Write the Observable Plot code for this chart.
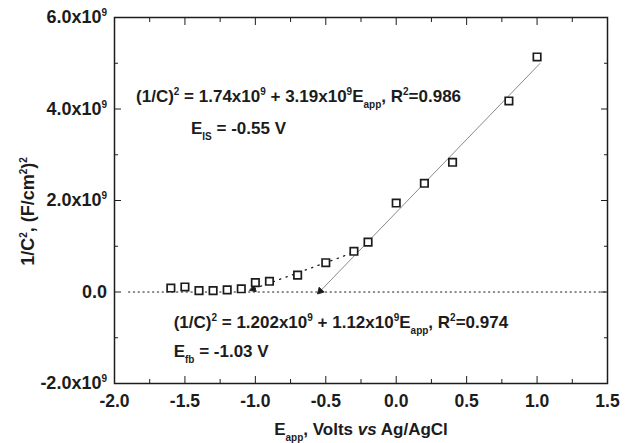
<!DOCTYPE html>
<html>
<head>
<meta charset="utf-8">
<script src="https://cdn.jsdelivr.net/npm/d3@7"></script>
<script src="https://cdn.jsdelivr.net/npm/@observablehq/plot@0.6"></script>
<style>
  html, body { margin: 0; padding: 0; background: #fff; }
  #chart { width: 630px; height: 443px; }
</style>
</head>
<body>
<div id="chart"></div>
<script>
// Mott–Schottky data: applied potential (V vs Ag/AgCl) and 1/C^2 ((F/cm^2)^-2 ×1e9)
const potential = [-1.6, -1.5, -1.4, -1.3, -1.2, -1.1, -1.0, -0.9, -0.7, -0.5, -0.3, -0.2, 0.0, 0.2, 0.4, 0.8, 1.0];
const invC2e9 = [0.087, 0.11, 0.03, 0.03, 0.045, 0.07, 0.205, 0.234, 0.37, 0.64, 0.89, 1.09, 1.945, 2.376, 2.835, 4.175, 5.137];

// Linear fits and their intercepts on the potential axis
const fitIS = {intercept: 1.74e9, slope: 3.19e9, from: 1.02, to: -0.55};
const fitFb = {intercept: 1.202e9, slope: 1.12e9, from: -0.32, to: -1.03};
const zeroLine = {from: -1.9, to: 1.5};

// Axis ticks and labels
const xMajor = [-2, -1.5, -1, -0.5, 0, 0.5, 1, 1.5];
const xMinor = [-1.75, -1.25, -0.75, -0.25, 0.25, 0.75, 1.25];
const xTickLabels = ["-2.0", "-1.5", "-1.0", "-0.5", "0.0", "0.5", "1.0", "1.5"];
const yMajor = [-2e9, 0, 2e9, 4e9, 6e9];
const yMinor = [-1e9, 1e9, 3e9, 5e9];
const yTickLabels = ["-2.0x10^{9}", "0.0", "2.0x10^{9}", "4.0x10^{9}", "6.0x10^{9}"];

const xTitle = "E_{app}, Volts *{vs} Ag/AgCl";
const yTitle = "1/C^{2}, (F/cm^{2})^{2}";

// Equation annotations (anchored in data space)
const notes = [
  {x: -1.847, y: 4.27e9, text: "(1/C)^{2} = 1.74x10^{9} + 3.19x10^{9}E_{app}, R^{2}=0.986"},
  {x: -1.457, y: 3.565e9, text: "E_{IS} = -0.55 V"},
  {x: -1.58, y: -0.675e9, text: "(1/C)^{2} = 1.202x10^{9} + 1.12x10^{9}E_{app}, R^{2}=0.974"},
  {x: -1.58, y: -1.303e9, text: "E_{fb} = -1.03 V"}
];

const points = potential.map((e, i) => ({e, v: invC2e9[i] * 1e9}));
const fitLine = (f) => [f.from, f.to].map(e => ({e, v: f.intercept + f.slope * e}));
const lineIS = fitLine(fitIS);
const lineFb = fitLine(fitFb);
const zero = [{e: zeroLine.from, v: 0}, {e: zeroLine.to, v: 0}];

const ink = "#1c1c1c";

function build(heads) {
  return Plot.plot({
    width: 630,
    height: 443,
    marginLeft: 114,
    marginRight: 23,
    marginTop: 17,
    marginBottom: 60,
    x: {domain: [-2, 1.5]},
    y: {domain: [-2e9, 6e9]},
    style: {fontFamily: "'Liberation Sans', Arial, sans-serif", fontWeight: "bold", fontSize: "17px", color: ink, background: "#fff"},
    marks: [
      // zero reference and fit lines
      Plot.line(zero, {x: "e", y: "v", stroke: ink, strokeWidth: 1.2, strokeDasharray: "1.2,3.6"}),
      Plot.line(lineFb, {x: "e", y: "v", stroke: ink, strokeWidth: 1.3, strokeDasharray: "1.3,5.5"}),
      Plot.line(lineIS, {x: "e", y: "v", stroke: "#8a8a8a", strokeWidth: 1}),
      Plot.dot(heads, {x: "e", y: "v", rotate: "angle", symbol: "triangle", r: 2.6, fill: ink, stroke: ink, strokeWidth: 0.8}),
      // measured points
      Plot.dot(points, {x: "e", y: "v", symbol: "square", r: 4.2, fill: "#fff", stroke: ink, strokeWidth: 1.7}),
      // axes: inward ticks on all four sides
      Plot.axisX(xMajor, {anchor: "bottom", tickSize: -7, tickPadding: 18, tickFormat: (d, i) => xTickLabels[i], fontSize: 17.5, label: null}),
      Plot.axisX(xMinor, {anchor: "bottom", tickSize: -4, tickFormat: () => "", label: null}),
      Plot.axisX(xMajor, {anchor: "top", tickSize: -7, tickFormat: () => "", label: null}),
      Plot.axisX(xMinor, {anchor: "top", tickSize: -4, tickFormat: () => "", label: null}),
      Plot.axisY(yMajor, {anchor: "left", tickSize: -7, tickPadding: 14.5, tickFormat: (d, i) => yTickLabels[i], fontSize: 18, label: null}),
      Plot.axisY(yMinor, {anchor: "left", tickSize: -4, tickFormat: () => "", label: null}),
      Plot.axisY(yMajor, {anchor: "right", tickSize: -7, tickFormat: () => "", label: null}),
      Plot.axisY(yMinor, {anchor: "right", tickSize: -4, tickFormat: () => "", label: null}),
      Plot.frame({stroke: ink, strokeWidth: 1.5}),
      // titles
      Plot.text([xTitle], {frameAnchor: "bottom", lineAnchor: "middle", dy: 46, fontSize: 17}),
      Plot.text([yTitle], {frameAnchor: "left", textAnchor: "middle", lineAnchor: "middle", dx: -86, dy: 11, rotate: -90, fontSize: 18}),
      Plot.text(notes, {x: "x", y: "y", text: "text", textAnchor: "start", fontSize: 17})
    ]
  });
}

// First pass: read the scales to orient the arrowheads along the fit lines
const probe = build([]);
const sx = probe.scale("x"), sy = probe.scale("y");
function head(line) {
  const [a, b] = line;
  const dx = sx.apply(b.e) - sx.apply(a.e), dy = sy.apply(b.v) - sy.apply(a.v);
  const len = Math.hypot(dx, dy);
  const back = 2.2; // pull the centroid back so the tip lands on the end point
  const px = sx.apply(b.e) - dx / len * back, py = sy.apply(b.v) - dy / len * back;
  return {e: sx.invert(px), v: sy.invert(py), angle: Math.atan2(dx, -dy) * 180 / Math.PI};
}
const chart = build([head(lineIS), head(lineFb)]);

// Turn ^{..} into superscripts, _{..} into subscripts and *{..} into italics
const NS = "http://www.w3.org/2000/svg";
function rich(el) {
  const s = el.textContent;
  if (!/[\^_*]\{/.test(s)) return;
  el.textContent = "";
  const re = /([\^_*])\{([^}]*)\}/g;
  let last = 0, shift = 0, m;
  const add = (str, kind) => {
    if (!str) return;
    const t = document.createElementNS(NS, "tspan");
    t.textContent = str;
    const target = kind === "^" ? -7 : kind === "_" ? 6 : 0;
    if (target !== shift) t.setAttribute("dy", target - shift);
    shift = target;
    if (kind === "^" || kind === "_") t.setAttribute("font-size", "10");
    if (kind === "*") t.setAttribute("font-style", "italic");
    el.appendChild(t);
  };
  while ((m = re.exec(s))) {
    add(s.slice(last, m.index), "");
    add(m[2], m[1]);
    last = re.lastIndex;
  }
  add(s.slice(last), "");
}
chart.querySelectorAll("text").forEach(rich);

document.getElementById("chart").appendChild(chart);
</script>
</body>
</html>
